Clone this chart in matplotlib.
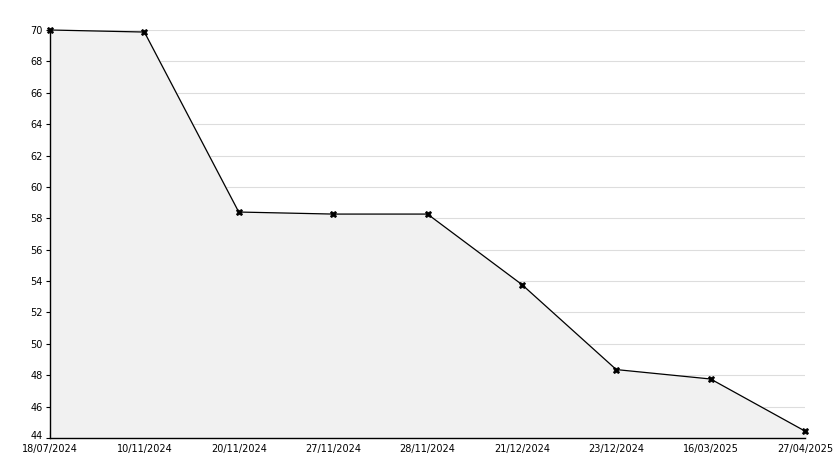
import matplotlib
matplotlib.use('Agg')
import matplotlib.pyplot as plt
import matplotlib.transforms as mtransforms
from matplotlib.ticker import MultipleLocator

dates = ['18/07/2024', '10/11/2024', '20/11/2024', '27/11/2024', '28/11/2024',
         '21/12/2024', '23/12/2024', '16/03/2025', '27/04/2025']
values = [70.0, 69.87, 58.40, 58.27, 58.27, 53.78, 48.36, 47.76, 44.44]


def run():
    fig = plt.figure(figsize=(8.34, 4.68), dpi=100)
    ax = fig.add_axes([50 / 834, 30 / 468, 755 / 834, 408 / 468])
    xs = list(range(len(dates)))

    ax.fill_between(xs, values, 44, color='#f1f1f1', zorder=1)
    ax.plot(xs, values, color='black', linewidth=0.9, marker='X',
            markersize=5, markeredgewidth=0.5, zorder=5, clip_on=False)

    ax.set_xlim(0, len(dates) - 1)
    ax.set_ylim(44, 70)
    ax.set_xticks(xs)
    ax.set_xticklabels(dates)
    ax.yaxis.set_major_locator(MultipleLocator(2))
    ax.yaxis.set_minor_locator(MultipleLocator(1))
    ax.grid(axis='y', which='major', color='#dddddd', linewidth=0.8, zorder=0)
    ax.set_axisbelow(True)

    for s in ['top', 'right']:
        ax.spines[s].set_visible(False)
    for s in ['left', 'bottom']:
        ax.spines[s].set_linewidth(1.0)
        ax.spines[s].set_zorder(4)

    ax.tick_params(axis='x', direction='in', length=5, width=0.8,
                   labelsize=7, pad=4)
    ax.tick_params(axis='y', which='major', direction='out', length=3,
                   width=0.8, labelsize=7, pad=2)
    ax.tick_params(axis='y', which='minor', direction='in', length=3,
                   width=0.8)

    # lift the bottom y label a touch so it clears the first date
    fig.canvas.draw()
    shift = mtransforms.ScaledTranslation(0, 2.5 / 72, fig.dpi_scale_trans)
    for tick in ax.yaxis.get_major_ticks():
        if tick.label1.get_text() == '44':
            tick.label1.set_transform(tick.label1.get_transform() + shift)

    fig.savefig('out.png', dpi=100)


if __name__ == '__main__':
    run()
